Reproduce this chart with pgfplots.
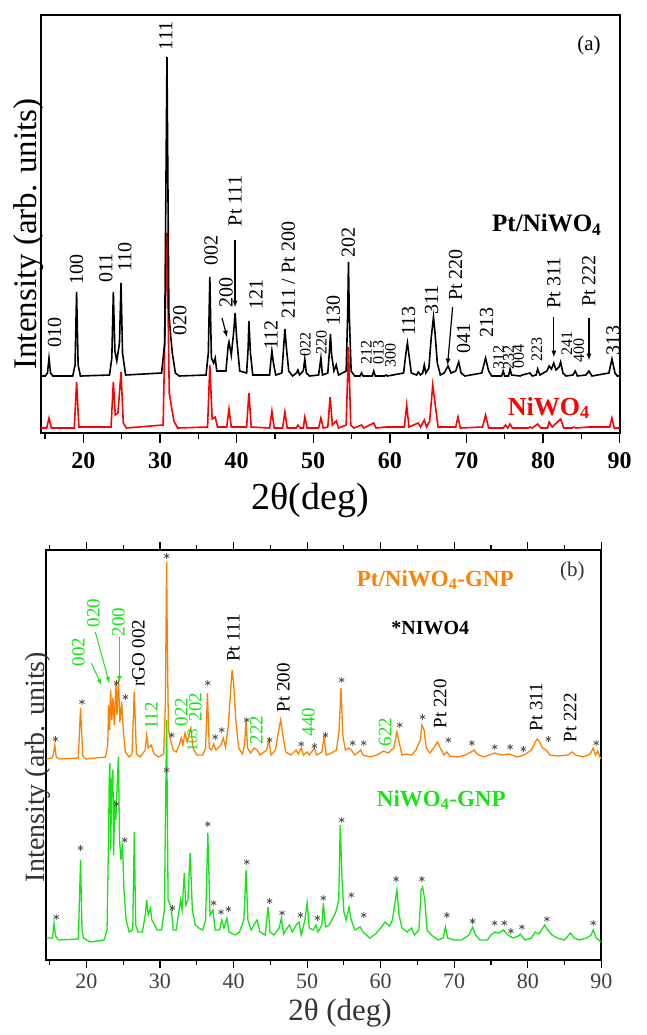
\documentclass[border=0pt]{standalone}
\usepackage{fontspec}
\setmainfont{Liberation Serif}
\usepackage{pgfplots}
\pgfplotsset{compat=1.18}

\definecolor{npOrange}{RGB}{255,128,0}
\definecolor{npGreen}{RGB}{20,230,20}
\definecolor{starGray}{RGB}{85,85,85}
\newcommand{\fs}[1]{\fontsize{#1}{#1}\selectfont}
\tikzset{
  peak/.style={rotate=90, font=\fs{20}},
  small/.style={rotate=90, font=\fs{16}},
  lbl/.style={rotate=90, font=\fs{19}},
  glbl/.style={rotate=90, font=\fs{19}, text=npGreen},
}

\begin{document}
\begin{tikzpicture}[x=1pt,y=1pt]
\useasboundingbox (0,0) rectangle (646,-1035);

% ---------------- panel (a) ----------------
\begin{axis}[
  at={(53,-433)}, anchor=south west,
  width=579pt, height=418pt, scale only axis,
  xmin=14.4, xmax=90, ymin=0, ymax=418,
  xtick={20,30,...,90}, minor xtick={15,25,...,85},
  xtick pos=bottom, tick align=outside,
  major tick length=10pt, minor tick length=6pt,
  ytick=\empty,
  axis line style={line width=2pt},
  every tick/.style={line width=1.4pt, black},
  xticklabel style={font=\fs{24}\bfseries, yshift=-6pt},
  /pgf/number format/assume math mode=true,
  clip mode=individual,
]
\addplot[red, line width=1.6pt] table {
14.4 5
15.2 5
15.5 15
15.8 5
18.8 5
19.1 51
19.4 6
23.6 6
23.9 51
24.15 18
24.5 20
24.9 61
25.2 10
25.6 5
30.4 8
30.9 200
31.2 40
31.5 26
31.8 12
32.3 5
36.2 6
36.5 68
36.8 14
37.2 16
37.5 6
38.7 6
39.0 24
39.3 6
41.3 6
41.6 40
41.9 6
44.3 5
44.6 22
44.9 5
46.0 5
46.3 21
46.6 5
47.8 5
48.0 8
48.3 5
48.7 5
48.9 16
49.2 5
50.7 5
51.0 15
51.3 5
51.9 6
52.2 36
52.5 8
53.0 12
53.3 5
54.3 8
54.6 86
54.9 8
55.3 5
56.3 8
56.6 5
57.9 10
58.2 5
59.5 6
61.9 6
62.2 28
62.5 6
63.7 10
64.0 6
64.5 13
64.8 6
65.2 12
65.6 48
65.9 30
66.3 6
68.6 6
68.9 16
69.2 5
72.1 6
72.5 18
72.9 5
74.8 5
75.1 8
75.4 5
75.7 9
76.0 5
78.1 5
78.3 6
78.6 5
79.3 9
79.7 5
80.6 5
80.8 11
81.2 6
82.3 14
82.7 5
83.8 5
84.0 6
84.3 5
86.0 6
88.7 6
89.0 15
89.3 5
90 5
};
\addplot[black, line width=1.6pt] table {
14.4 57
15.0 57
15.3 60
15.5 75
15.7 60
16.0 57
18.6 57
18.9 68
19.1 141
19.3 68
19.6 57
23.4 58
23.7 75
23.9 141
24.1 82
24.35 72
24.7 90
24.9 150
25.1 80
25.5 58
30.2 60
30.6 90
30.9 376
31.15 120
31.4 96
31.6 80
32.0 60
32.5 57
36.0 58
36.3 80
36.5 156
36.7 75
37.0 70
37.2 75
37.4 62
38.6 62
38.9 88
39.0 91
39.3 78
39.6 100
39.8 120
40.0 95
40.4 62
41.3 60
41.5 85
41.6 112
41.8 80
42.1 58
44.3 58
44.5 75
44.6 82
44.8 70
45.1 58
45.9 60
46.1 82
46.3 104
46.5 85
46.8 62
47.3 57
47.8 60
48.0 63
48.2 58
48.7 62
48.9 74
49.1 60
49.5 57
50.7 58
51.0 75
51.2 58
51.9 60
52.1 80
52.25 99
52.4 78
52.7 62
53.0 68
53.3 58
54.3 62
54.5 120
54.6 171
54.7 120
54.95 62
55.4 57
56.1 57
56.3 60
56.5 57
57.7 57
57.9 62
58.1 57
59.3 57
59.5 58
59.7 57
61.8 60
62.1 80
62.3 90
62.5 78
62.8 60
63.5 58
63.7 61
64.0 58
64.3 60
64.5 68
64.7 60
65.1 65
65.4 95
65.7 116
65.9 100
66.2 70
66.6 58
67.1 60
67.6 67
68.0 60
68.6 62
69.0 71
69.3 60
69.8 57
72.0 60
72.5 75
72.9 62
73.3 57
74.6 57
74.8 62
75.0 57
75.5 57
75.7 64
75.9 58
77.0 57
77.3 58
78.3 60
78.6 57
79.1 58
79.3 64
79.6 58
80.5 62
80.8 67
81.1 64
81.4 70
81.7 63
82.1 66
82.3 71
82.6 60
83.0 57
83.9 58
84.2 62
84.5 57
85.6 58
86.0 62
86.4 57
88.6 60
89.0 74
89.4 60
89.7 57
90 57
};
% peak indices
\node[peak] at (axis cs:16.23,101) {010};
\node[peak] at (axis cs:19.11,164) {100};
\node[peak] at (axis cs:22.91,165) {011};
\node[peak] at (axis cs:25.39,176) {110};
\node[peak] at (axis cs:30.76,397) {111};
\node[peak] at (axis cs:32.59,113) {020};
\node[peak] at (axis cs:36.65,183) {002};
\node[peak] at (axis cs:38.61,141) {200};
\node[peak] at (axis cs:39.79,232) {Pt 111};
\node[peak] at (axis cs:42.54,139) {121};
\node[peak] at (axis cs:44.50,98) {112};
\node[peak] at (axis cs:46.73,163) {211 / Pt 200};
\node[small] at (axis cs:48.96,89) {022};
\node[small] at (axis cs:51.05,91) {220};
\node[peak] at (axis cs:52.62,123) {130};
\node[peak] at (axis cs:54.58,191) {202};
\node[small] at (axis cs:56.94,81) {212};
\node[small] at (axis cs:58.51,81) {013};
\node[small] at (axis cs:60.08,78) {300};
\node[peak] at (axis cs:62.44,112) {113};
\node[peak] at (axis cs:65.45,133) {311};
\node[peak] at (axis cs:68.59,158) {Pt 220};
\node[peak] at (axis cs:69.64,95) {041};
\node[peak] at (axis cs:72.65,111) {213};
\node[small] at (axis cs:74.22,76) {312};
\node[small] at (axis cs:75.53,76) {232};
\node[small] at (axis cs:76.83,77) {004};
\node[small] at (axis cs:79.19,84) {223};
\node[peak] at (axis cs:81.42,150) {Pt 311};
\node[small] at (axis cs:83.12,90) {241};
\node[small] at (axis cs:84.69,83) {400};
\node[peak] at (axis cs:86.0,152) {Pt 222};
\node[peak] at (axis cs:89.14,93) {313};
% arrows
\draw[-latex, line width=1.2pt] (axis cs:38.09,115) -- (axis cs:38.74,96);
\draw[-latex, line width=1.2pt] (axis cs:39.79,193) -- (axis cs:39.79,126);
\draw[-latex, line width=1.2pt] (axis cs:68.2,126) -- (axis cs:67.54,68);
\draw[-latex, line width=1.2pt] (axis cs:81.42,116) -- (axis cs:81.42,76);
\draw[-latex, line width=1.2pt] (axis cs:86.0,115) -- (axis cs:86.0,73);
% texts
\node[font=\fs{21}] at (axis cs:86.0,388) {(a)};
\node[font=\fs{25}\bfseries] at (axis cs:80.5,208) {Pt/NiWO\textsubscript{4}};
\node[font=\fs{26}\bfseries, text=red] at (axis cs:80.76,25) {NiWO\textsubscript{4}};
\end{axis}
\node[rotate=90, font=\fs{33}] at (29,-234) {Intensity (arb. units)};
\node[font=\fs{38}] at (310,-500) {2θ(deg)};

% ---------------- panel (b) ----------------
\begin{axis}[
  at={(63,-960)}, anchor=south west,
  width=555pt, height=410pt, scale only axis,
  xmin=14.55, xmax=90, ymin=0, ymax=410,
  xtick={20,30,...,90}, minor xtick={15,25,...,85},
  xtick pos=both, tick align=outside,
  major tick length=8pt, minor tick length=5pt,
  ytick=\empty,
  axis line style={line width=1.8pt},
  every tick/.style={line width=1.2pt, black},
  xticklabel style={font=\fs{22}, text=black!75, yshift=-2pt},
  /pgf/number format/assume math mode=true,
  clip mode=individual,
]
\addplot[npGreen, line width=1.3pt] table {
14.55 22
15.4 22
15.6 37
15.8 24
16.2 20
18.9 21
19.2 100
19.4 30
19.6 22
20.5 18
22.4 20
22.8 30
23.0 120
23.1 180
23.2 197
23.3 110
23.45 180
23.6 190
23.7 105
23.85 160
24.0 140
24.2 180
24.35 203
24.5 120
24.7 100
24.9 117
25.1 70
25.4 40
25.8 28
26.3 30
26.5 128
26.7 35
27.0 28
27.6 28
28.0 45
28.2 60
28.4 45
28.7 52
28.9 40
29.3 35
29.6 30
30.2 30
30.6 50
30.9 240
31.1 60
31.5 53
31.8 30
32.2 30
32.5 45
32.8 60
33.0 50
33.3 87
33.5 55
33.8 60
34.1 107
34.4 50
34.8 35
35.3 32
35.8 30
36.2 40
36.5 127
36.8 45
37.2 50
37.5 30
38.1 30
38.4 40
38.7 32
39.1 42
39.4 28
40.2 25
40.8 28
41.4 40
41.7 90
41.95 40
42.4 30
43.0 38
43.2 40
43.6 28
44.3 25
44.7 53
44.95 28
45.5 25
46.2 32
46.5 42
46.8 26
47.3 32
47.6 35
48.0 28
48.6 36
48.9 38
49.2 25
49.7 40
50.0 57
50.3 32
50.8 30
51.2 35
51.5 28
52.0 35
52.2 57
52.5 33
53.0 35
53.5 42
53.9 48
54.3 60
54.5 135
54.75 80
55.0 48
55.3 40
55.7 53
56.0 40
56.5 30
57.2 33
57.6 28
58.5 22
59.3 26
60.0 32
60.6 38
61.2 34
61.6 40
61.9 55
62.2 70
62.5 45
62.9 32
63.6 28
64.2 32
64.6 25
65.2 30
65.5 70
65.7 73
66.0 60
66.3 30
66.9 25
67.8 20
68.5 22
68.8 33
69.1 22
70.0 20
71.0 20
72.0 25
72.5 33
72.9 25
73.5 20
74.5 20
75.0 25
75.5 28
76.0 27
76.7 30
77.3 25
78.0 22
78.7 24
79.0 26
79.6 20
80.5 22
81.0 28
81.5 26
82.3 35
82.7 30
83.3 25
84.0 22
85.0 20
85.8 27
86.3 22
87.0 20
88.0 22
88.6 25
88.9 30
89.3 22
90 18
};
\addplot[npOrange, line width=1.3pt] table {
14.55 201
15.3 202
15.5 205
15.7 215
15.9 203
16.3 201
18.9 202
19.2 252
19.5 204
19.9 201
22.6 203
22.9 215
23.0 255
23.15 230
23.3 270
23.45 240
23.6 262
23.8 235
24.0 277
24.15 245
24.35 280
24.55 238
24.8 258
25.0 230
25.3 208
25.8 203
26.2 206
26.5 268
26.8 206
27.3 203
28.0 210
28.2 225
28.4 212
28.8 215
29.2 206
29.8 203
30.5 206
30.75 260
30.8 313
30.9 398
31.0 313
31.15 230
31.5 218
31.8 210
32.2 208
32.6 215
32.9 222
33.1 215
33.4 227
33.7 218
34.2 232
34.5 212
35.0 205
35.8 205
36.2 212
36.45 267
36.7 212
37.0 210
37.3 216
37.6 210
38.3 215
38.6 222
38.9 213
39.3 235
39.6 270
39.8 290
40.0 278
40.3 240
40.7 212
41.2 206
41.5 215
41.7 240
41.9 212
42.3 207
42.8 212
43.2 210
43.6 205
44.5 210
44.8 220
45.1 205
45.7 210
46.1 228
46.4 240
46.7 225
47.1 208
47.8 205
48.5 210
48.8 206
49.2 212
49.5 205
50.0 208
50.3 205
51.0 212
51.3 205
52.0 208
52.3 223
52.6 205
53.3 207
54.0 210
54.35 230
54.6 272
54.85 225
55.2 210
55.7 212
56.0 210
56.5 205
57.3 210
57.6 205
58.5 203
59.5 205
60.4 209
61.0 207
61.8 212
62.2 228
62.5 218
62.9 205
63.5 206
64.2 205
64.8 210
65.4 220
65.6 235
65.9 230
66.2 212
66.7 207
67.2 212
67.7 218
68.1 212
68.6 205
69.0 208
69.4 204
70.5 203
71.5 205
72.3 208
72.7 210
73.1 206
74.0 203
75.5 207
76.5 205
77.5 206
78.5 203
79.5 205
80.5 210
81.0 218
81.3 221
81.6 218
82.0 212
82.5 210
83.0 205
84.0 204
85.5 205
86.0 208
86.5 205
87.5 203
88.5 206
88.9 212
89.2 205
89.5 209
89.8 203
90 201
};
% NiWO4 reflections marked with asterisks
\addplot[only marks, mark=asterisk, mark size=3pt, starGray, line width=0.8pt] coordinates {
(15.8,221) (19.4,258) (24.1,277) (25.3,263) (30.9,404) (31.6,225) (36.5,277)
(37.5,223) (38.4,230) (41.8,240) (44.9,220) (49.2,216) (51.0,214) (52.5,225)
(54.7,280) (56.2,217) (57.7,217) (62.6,235) (65.7,243) (69.2,220) (72.4,217)
(75.5,213) (77.6,213) (79.4,211) (82.8,221) (89.3,217)
};
\addplot[only marks, mark=asterisk, mark size=3pt, starGray, line width=0.8pt] coordinates {
(15.9,43) (19.2,112) (24.1,156) (25.2,120) (30.9,190) (31.7,52) (36.5,136)
(37.3,57) (38.3,48) (39.3,51) (41.8,98) (44.9,59) (46.6,47) (49.1,45)
(51.4,42) (52.2,62) (54.7,140) (56.0,65) (57.7,45) (62.1,81) (65.6,81)
(69.0,45) (72.5,39) (75.5,37) (76.8,37) (77.7,29) (79.2,33) (82.6,41) (88.9,37)
};
% labels
\node[glbl] at (axis cs:18.90,308) {002};
\node[glbl] at (axis cs:20.94,347) {020};
\node[glbl] at (axis cs:24.34,338) {200};
\draw[-latex, npGreen, line width=1pt] (axis cs:20.67,297) -- (axis cs:22.03,275);
\draw[-latex, npGreen, line width=1pt] (axis cs:21.21,328) -- (axis cs:23.11,277);
\draw[-latex, npGreen, line width=1pt] (axis cs:24.47,323) -- (axis cs:24.47,278);
\node[lbl] at (axis cs:27.05,307) {rGO 002};
\node[glbl] at (axis cs:28.82,244) {112};
\node[glbl] at (axis cs:32.90,248) {022};
\node[glbl] at (axis cs:34.80,253) {202};
\node[glbl, font=\fs{15}] at (axis cs:34.40,220) {103};
\node[lbl] at (axis cs:39.97,322) {Pt 111};
\node[glbl] at (axis cs:43.09,230) {222};
\node[lbl] at (axis cs:46.76,272) {Pt 200};
\node[glbl] at (axis cs:50.16,238) {440};
\node[glbl] at (axis cs:60.63,228) {622};
\node[lbl] at (axis cs:68.10,256) {Pt 220};
\node[lbl] at (axis cs:81.15,253) {Pt 311};
\node[lbl] at (axis cs:85.77,242) {Pt 222};
\node[font=\fs{23}\bfseries, text=npOrange] at (axis cs:67.42,380) {Pt/NiWO\textsubscript{4}-GNP};
\node[font=\fs{20}\bfseries] at (axis cs:66.75,332) {*NIWO4};
\node[font=\fs{21}, text=black!80] at (axis cs:86.05,389) {(b)};
\node[font=\fs{23}\bfseries, text=npGreen] at (axis cs:68.24,160) {NiWO\textsubscript{4}-GNP};
\end{axis}
\node[rotate=90, font=\fs{28}, text=black!80] at (38,-767) {Intensity (arb. units)};
\node[font=\fs{31}, text=black!80] at (340,-1013) {2θ (deg)};
\end{tikzpicture}
\end{document}
